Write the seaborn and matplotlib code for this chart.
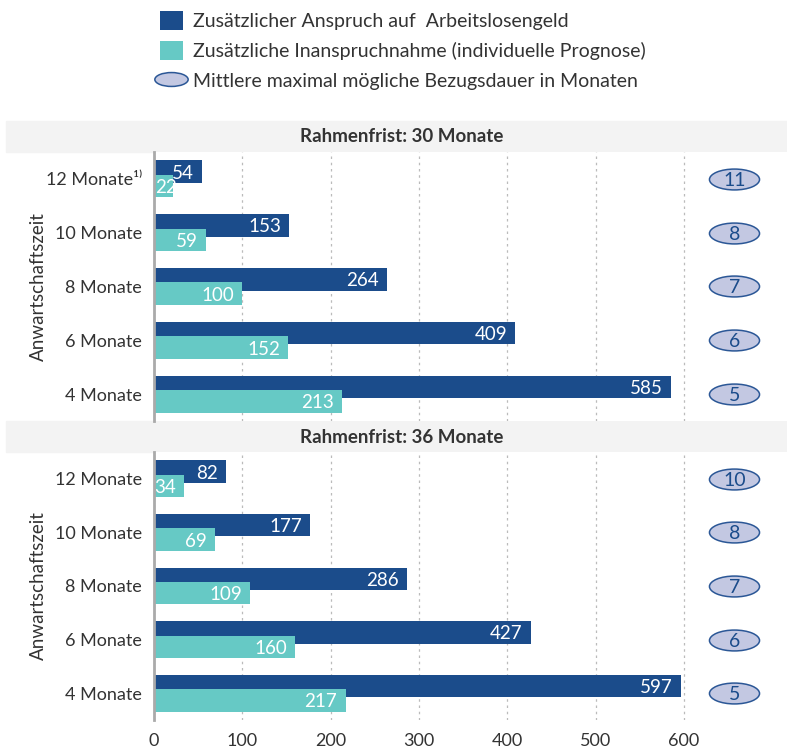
import numpy as np
import pandas as pd
import matplotlib as mpl
import matplotlib.pyplot as plt
from matplotlib.path import Path
from matplotlib.patches import Patch, Rectangle
from matplotlib.lines import Line2D
import seaborn as sns

# data
categories = ['12 Monate', '10 Monate', '8 Monate', '6 Monate', '4 Monate']
panels = ['Rahmenfrist: 30 Monate', 'Rahmenfrist: 36 Monate']
anspruch_30 = [54, 153, 264, 409, 585]
inanspruch_30 = [22, 59, 100, 152, 213]
dauer_30 = [11, 8, 7, 6, 5]
anspruch_36 = [82, 177, 286, 427, 597]
inanspruch_36 = [34, 69, 109, 160, 217]
dauer_36 = [10, 8, 7, 6, 5]
x_ticks = [0, 100, 200, 300, 400, 500, 600]

DARK = '#1b4c8b'
TEAL = '#66c9c5'
ELL_FACE = '#c3c8e2'
ELL_EDGE = '#2b5796'
TXT = '#333333'

sns.set_theme(style='white')
plt.rcParams['font.family'] = ['Lato', 'DejaVu Sans']

# ellipse marker (wider than tall)
circ = Path.unit_circle()
ellipse = Path(circ.vertices * [2.4, 1.0], circ.codes)

W, H = 787, 753
fig = plt.figure(figsize=(W / 100, H / 100), dpi=100)

def fx(px):
    return px / W

def fy(px):
    return 1 - px / H

# header strips
for top, title in zip([121, 421], panels):
    fig.add_artist(Rectangle((fx(6), fy(top + 31)), fx(781), 31 / H,
                             transform=fig.transFigure, color='#f3f3f3', zorder=0))
    fig.text(fx(402), fy(top + 16), title, ha='center', va='center',
             fontsize=13.5, fontweight='bold', color=TXT)

ax1 = fig.add_axes([fx(154), fy(421), fx(633), 269 / H])
ax2 = fig.add_axes([fx(154), fy(720), fx(633), 268 / H])

data = [(anspruch_30, inanspruch_30, dauer_30), (anspruch_36, inanspruch_36, dauer_36)]
off = 0.135
ell_x = 657


def bar_label(ax, value, y):
    # white value inside the bar end; very short bars get it from the axis
    if value < 30:
        ax.annotate(str(value), xy=(0, y), xytext=(1, 0), textcoords='offset points',
                    ha='left', va='center_baseline', color='white', fontsize=13.5, zorder=5)
    else:
        ax.annotate(str(value), xy=(value, y), xytext=(-6, 0), textcoords='offset points',
                    ha='right', va='center_baseline', color='white', fontsize=13.5, zorder=5)


for i, (ax, (ans, inan, dau)) in enumerate(zip([ax1, ax2], data)):
    df = pd.DataFrame({'pos': np.arange(len(categories)), 'anspruch': ans,
                       'inanspruch': inan, 'dauer': dau})
    df['pos_a'] = df['pos'] - off
    df['pos_i'] = df['pos'] + off
    df['ell_x'] = ell_x
    sns.barplot(data=df, x='anspruch', y='pos_a', orient='h', native_scale=True,
                width=0.42, color=DARK, saturation=1, errorbar=None, linewidth=0,
                ax=ax, zorder=2)
    sns.barplot(data=df, x='inanspruch', y='pos_i', orient='h', native_scale=True,
                width=0.42, color=TEAL, saturation=1, errorbar=None, linewidth=0,
                ax=ax, zorder=3)
    sns.scatterplot(data=df, x='ell_x', y='pos', marker=ellipse, s=1300,
                    color=ELL_FACE, edgecolor=ELL_EDGE, linewidth=1.1, ax=ax,
                    zorder=4, clip_on=False)
    for a, b, d, p in zip(ans, inan, dau, range(len(categories))):
        bar_label(ax, a, p - off)
        bar_label(ax, b, p + off)
        ax.text(ell_x, p, str(d), ha='center', va='center_baseline',
                color=DARK, fontsize=14, zorder=6)

    labels = list(categories)
    if i == 0:
        labels[0] = '12 Monate¹⁾'
    ax.set_yticks(np.arange(len(categories)), labels)
    ax.set_ylim(len(categories) - 0.5, -0.5)
    ax.set_xlim(0, 633 / (530 / 600))
    ax.set_xticks(x_ticks)
    ax.grid(axis='x', linestyle=(0, (2, 3)), color='#bbbbbb', lw=0.9)
    ax.grid(axis='y', visible=False)
    ax.set_axisbelow(True)
    for s in ['top', 'right', 'bottom']:
        ax.spines[s].set_visible(False)
    ax.spines['left'].set_color('#aaaaaa')
    ax.spines['left'].set_linewidth(2)
    ax.spines['left'].set_zorder(6)
    ax.tick_params(axis='y', length=0, pad=8.5, labelsize=13, labelcolor=TXT)
    ax.tick_params(axis='x', length=0, pad=9, labelsize=13, labelcolor=TXT)
    ax.set_xlabel('')
    ax.set_ylabel('Anwartschaftszeit', fontsize=13.5, color=TXT)
    ax.yaxis.set_label_coords((47 - 154) / 633, 0.5)
    if i == 0:
        ax.tick_params(axis='x', labelbottom=False)

handles = [
    Patch(facecolor=DARK, edgecolor='none'),
    Patch(facecolor=TEAL, edgecolor='none'),
    Line2D([], [], marker=ellipse, markersize=24, linestyle='none',
           markerfacecolor=ELL_FACE, markeredgecolor=ELL_EDGE, markeredgewidth=1.1),
]
legend_labels = ['Zusätzlicher Anspruch auf  Arbeitslosengeld',
                 'Zusätzliche Inanspruchnahme (individuelle Prognose)',
                 'Mittlere maximal mögliche Bezugsdauer in Monaten']
fig.legend(handles, legend_labels, loc='upper left', bbox_to_anchor=(fx(150), fy(1)),
           frameon=False, fontsize=14, handlelength=1.2, handleheight=1.15,
           handletextpad=0.5, labelspacing=0.55, borderpad=0, labelcolor=TXT)

fig.savefig('out.png', dpi=100)
